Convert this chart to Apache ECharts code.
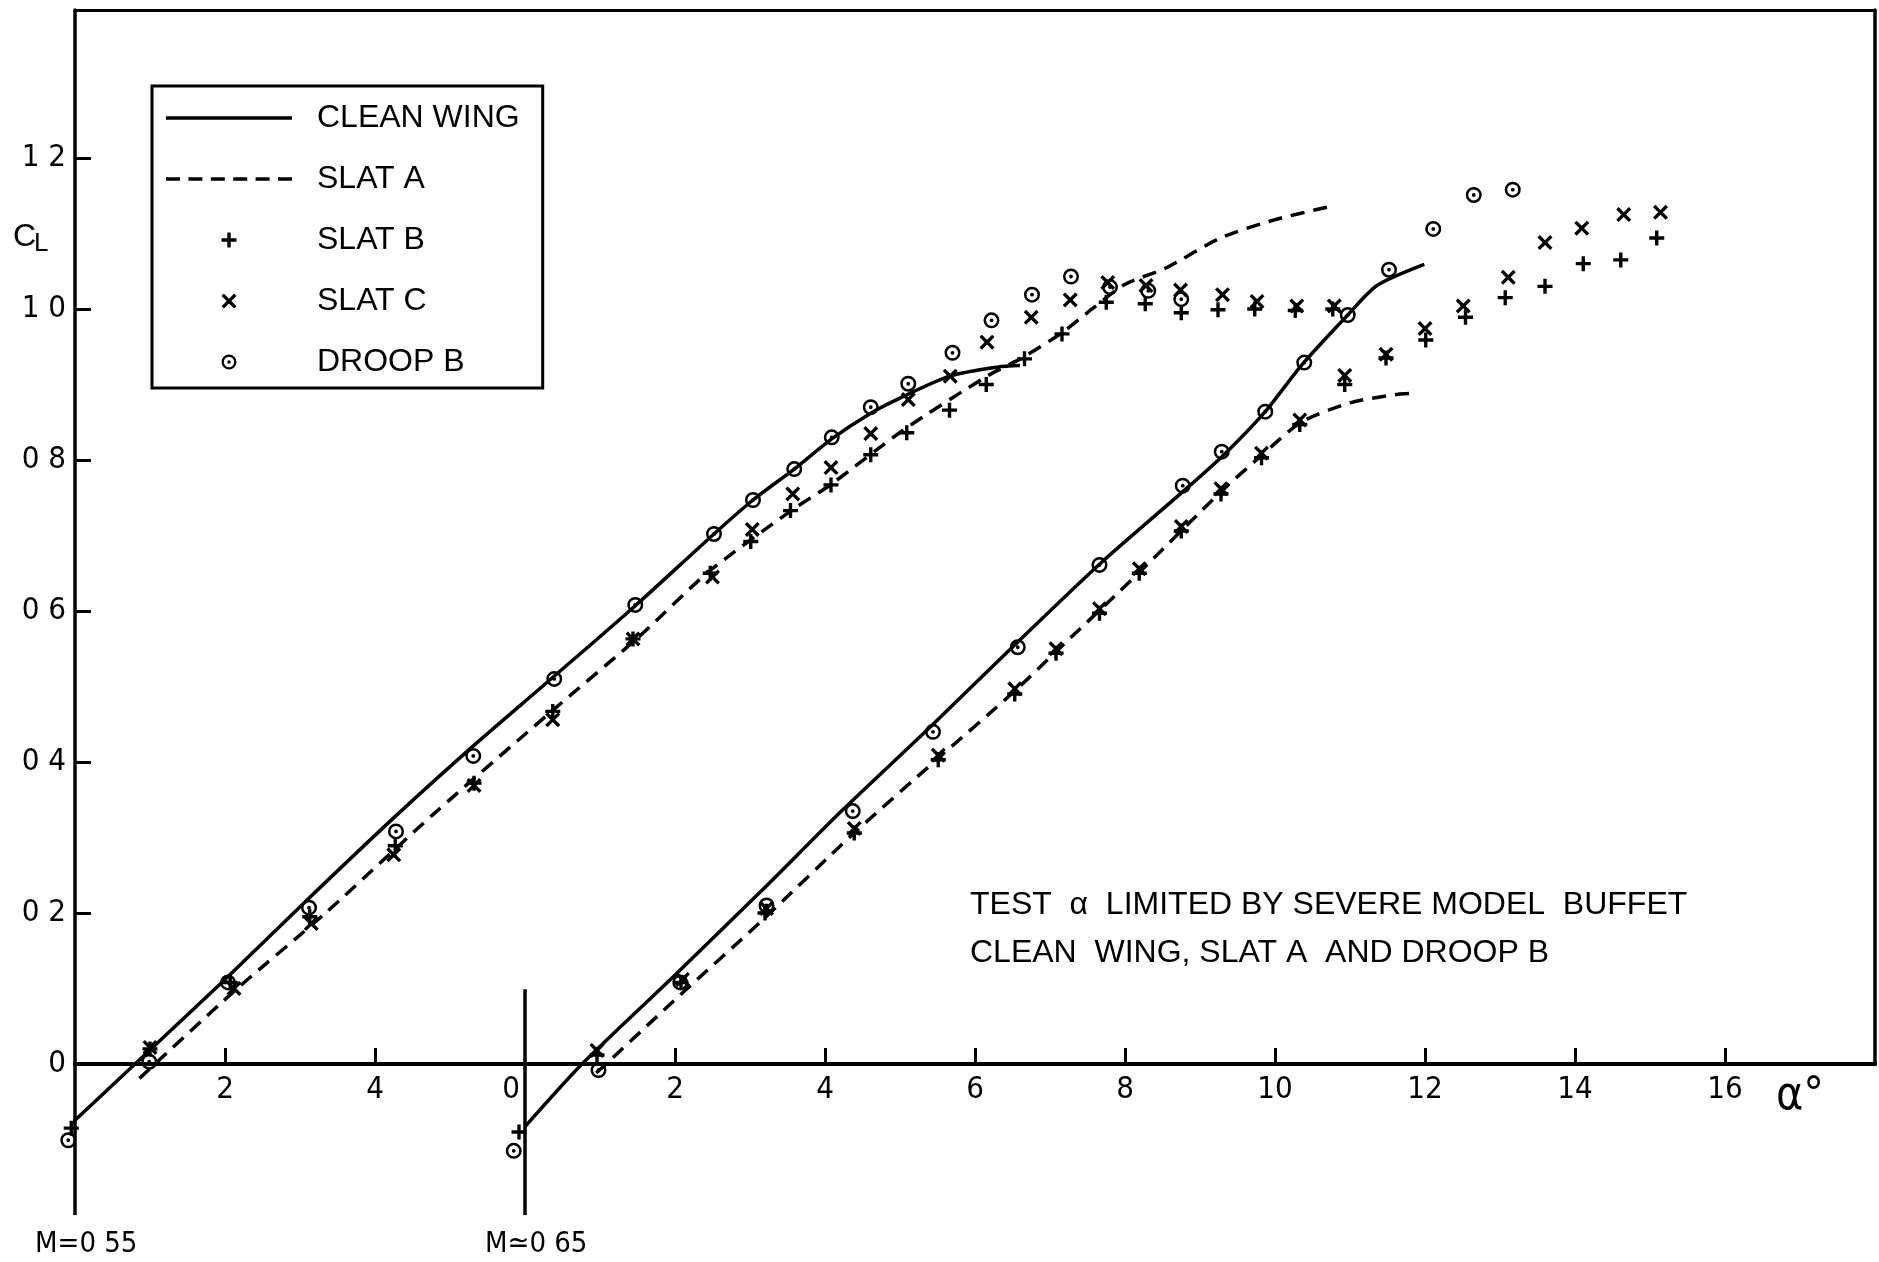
<!DOCTYPE html>
<html>
<head>
<meta charset="utf-8">
<title>CL vs alpha, slats and droop</title>
<script src="https://cdn.jsdelivr.net/npm/echarts@6/dist/echarts.min.js"></script>
<style>
  html, body { margin: 0; padding: 0; background: #fff; }
  #chart { width: 1879px; height: 1262px; }
</style>
</head>
<body>
<div id="chart"></div>
<script>
// ---- values: [alpha (deg), CL] ----
// M = 0.55, alpha on the left scale
const cleanWing055 = [[-0.39, -0.111], [0.8, 0], [2.0, 0.112], [3.06, 0.214], [4.26, 0.327], [5.33, 0.423],
  [6.3, 0.506], [7.46, 0.606], [8.52, 0.702], [9.04, 0.747], [9.59, 0.788], [10.09, 0.828], [10.61, 0.862],
  [11.0, 0.882], [11.66, 0.911], [12.3, 0.923], [12.6, 0.925]]
const slatA055 = [[0.86, -0.019], [2.14, 0.098], [3.34, 0.2], [4.78, 0.331], [6.33, 0.465], [7.52, 0.566],
  [8.45, 0.652], [9.55, 0.733], [10.07, 0.767], [11.05, 0.84], [12.16, 0.911], [12.66, 0.937], [13.18, 0.97],
  [13.56, 1.0], [13.99, 1.032], [14.56, 1.055], [15.27, 1.094], [15.99, 1.118], [16.7, 1.135]]
const slatB055 = [[-0.05, -0.085], [1.0, 0.02], [2.07, 0.108], [3.13, 0.195], [4.27, 0.289], [5.32, 0.372],
  [6.37, 0.467], [7.44, 0.563], [8.47, 0.65], [9.01, 0.692], [9.54, 0.733], [10.08, 0.767], [10.61, 0.807],
  [11.09, 0.836], [11.66, 0.866], [12.15, 0.9], [12.66, 0.934], [13.16, 0.967], [13.75, 1.009], [14.27, 1.007],
  [14.75, 0.995], [15.24, 0.999], [15.73, 1.0], [16.27, 0.998], [16.77, 1.0]]
const slatC055 = [[1.0, 0.022], [2.12, 0.1], [3.15, 0.186], [4.25, 0.277], [5.32, 0.369], [6.37, 0.456],
  [7.44, 0.563], [8.5, 0.645], [9.03, 0.708], [9.57, 0.755], [10.08, 0.79], [10.61, 0.835], [11.11, 0.88],
  [11.67, 0.911], [12.16, 0.956], [12.75, 0.989], [13.27, 1.012], [13.77, 1.035], [14.28, 1.031], [14.74, 1.025],
  [15.3, 1.019], [15.76, 1.01], [16.29, 1.004], [16.79, 1.004]]
const droopB055 = [[-0.09, -0.101], [0.99, 0.003], [2.04, 0.108], [3.12, 0.207], [4.28, 0.308], [5.31, 0.408],
  [6.39, 0.51], [7.47, 0.608], [8.52, 0.702], [9.04, 0.747], [9.59, 0.788], [10.09, 0.83], [10.61, 0.87],
  [11.11, 0.901], [11.7, 0.942], [12.22, 0.985], [12.76, 1.019], [13.28, 1.043], [13.8, 1.029], [14.31, 1.024],
  [14.75, 1.013]]

// M = 0.65, alpha on the right scale
const cleanWing065 = [[0, -0.083], [0.76, 0], [1.97, 0.115], [3.16, 0.23], [4.23, 0.336], [5.4, 0.446],
  [6.57, 0.559], [7.66, 0.662], [8.84, 0.764], [9.33, 0.808], [9.87, 0.864], [10.35, 0.925], [10.97, 0.992],
  [11.36, 1.031], [11.99, 1.059]]
const slatA065 = [[0.95, -0.012], [2.13, 0.097], [3.16, 0.19], [4.39, 0.306], [5.51, 0.405], [6.53, 0.494],
  [7.1, 0.548], [8.2, 0.652], [9.28, 0.758], [9.82, 0.806], [10.35, 0.85], [11.01, 0.876], [11.64, 0.887],
  [11.8, 0.888]]
const slatB065 = [[-0.08, -0.09], [0.96, 0.012], [2.08, 0.108], [3.2, 0.2], [4.39, 0.306], [5.51, 0.403],
  [6.53, 0.49], [7.08, 0.544], [7.66, 0.597], [8.19, 0.65], [8.75, 0.706], [9.28, 0.755], [9.82, 0.803],
  [10.33, 0.847], [10.93, 0.9], [11.48, 0.935], [12.01, 0.959], [12.54, 0.989], [13.07, 1.015], [13.6, 1.03],
  [14.11, 1.06], [14.61, 1.065], [15.09, 1.094]]
const slatC065 = [[0.96, 0.018], [2.1, 0.112], [3.22, 0.206], [4.39, 0.312], [5.51, 0.409], [6.53, 0.497],
  [7.08, 0.55], [7.66, 0.603], [8.19, 0.656], [8.75, 0.712], [9.28, 0.762], [9.82, 0.809], [10.33, 0.853],
  [10.93, 0.912], [11.48, 0.94], [12.0, 0.974], [12.51, 1.004], [13.11, 1.042], [13.6, 1.088], [14.09, 1.107],
  [14.65, 1.125], [15.14, 1.128]]
const droopB065 = [[-0.15, -0.115], [0.98, -0.008], [2.07, 0.108], [3.22, 0.21], [4.37, 0.335], [5.44, 0.44],
  [6.57, 0.552], [7.66, 0.661], [8.77, 0.766], [9.29, 0.811], [9.87, 0.864], [10.39, 0.929], [10.97, 0.992],
  [11.52, 1.052], [12.11, 1.106], [12.65, 1.151], [13.17, 1.158]]

// ---- axes ----
const clTicks = [0, 0.2, 0.4, 0.6, 0.8, 1.0, 1.2]
const alphaTicks055 = [2, 4]
const alphaTicks065 = [0, 2, 4, 6, 8, 10, 12, 14, 16]
const CL_LOW = -0.2      // how far the two alpha-origin lines hang below CL = 0
const CL_MAX = 1.396
const ALPHA055_MIN = 0
const ALPHA055_MAX = 24
const ALPHA065_MIN = -6
const ALPHA065_MAX = 18
const M065_AXIS_TOP = 0.099

const NUM_FONT = "'DejaVu Sans Condensed', 'DejaVu Sans', sans-serif"
const TXT_FONT = "'Liberation Sans', Arimo, sans-serif"

const RING = 'path://M0,-8A8,8,0,1,1,0,8A8,8,0,1,1,0,-8ZM0,-5.5A5.5,5.5,0,1,0,0,5.5A5.5,5.5,0,1,0,0,-5.5ZM0,-1.9A1.9,1.9,0,1,1,0,1.9A1.9,1.9,0,1,1,0,-1.9Z'
const PLUS = 'path://M-1.35,-6H1.35V-1.35H6V1.35H1.35V6H-1.35V1.35H-6V-1.35H-1.35Z'
const CROSS = 'path://M-6,-4.1L-4.1,-6L0,-1.9L4.1,-6L6,-4.1L1.9,0L6,4.1L4.1,6L0,1.9L-4.1,6L-6,4.1L-1.9,0Z'
const SOLID_ICON = 'path://M0,0h126v3.5h-126z'
const DASH_ICON = 'path://M0,0h14v3.5h-14zM22.4,0h14v3.5h-14zM44.8,0h14v3.5h-14zM67.2,0h14v3.5h-14zM89.6,0h14v3.5h-14zM112,0h14v3.5h-14z'

const chart = echarts.init(document.getElementById('chart'), null, { renderer: 'canvas' })

const lineOf = (name, data, xIdx, dashed) => ({
  name,
  type: 'line',
  xAxisIndex: xIdx,
  data,
  symbol: 'none',
  smooth: 0.25,
  clip: false,
  silent: true,
  z: 2,
  itemStyle: { color: '#000' },
  lineStyle: { color: '#000', width: 3.5, type: dashed ? [14, 9] : 'solid' },
})

const pointsOf = (name, data, xIdx, symbol, size) => ({
  name,
  type: 'scatter',
  xAxisIndex: xIdx,
  data,
  symbol,
  symbolSize: size,
  clip: false,
  silent: true,
  z: 3,
  itemStyle: { color: '#000', opacity: 1 },
})

// the alpha = 0 lines hanging below the CL = 0 axis
const originLine = (name, xIdx, x, top) => ({
  name,
  type: 'line',
  xAxisIndex: xIdx,
  data: [[x, top], [x, CL_LOW]],
  symbol: 'none',
  clip: false,
  silent: true,
  z: 1,
  itemStyle: { color: '#000' },
  lineStyle: { color: '#000', width: 3.5 },
})

const tickStyle = { color: '#000', width: 3 }

chart.setOption({
  backgroundColor: '#fff',
  animation: false,
  grid: { left: 75, right: 4, top: 10, bottom: 198, containLabel: false, outerBoundsMode: 'none' },
  legend: {
    orient: 'vertical',
    left: 152,
    top: 86,
    selectedMode: false,
    itemWidth: 126,
    itemHeight: 15,
    itemGap: 25,
    padding: [14, 23, 8, 14],
    backgroundColor: '#fff',
    borderColor: '#000',
    borderWidth: 3,
    borderRadius: 0,
    textStyle: { color: '#000', fontFamily: TXT_FONT, fontSize: 32, lineHeight: 36, padding: [0, 0, 0, 20] },
    data: [
      { name: 'CLEAN WING', icon: SOLID_ICON },
      { name: 'SLAT A', icon: DASH_ICON },
      { name: 'SLAT B' },
      { name: 'SLAT C' },
      { name: 'DROOP B' },
    ],
  },
  xAxis: [
    {
      type: 'value',
      min: ALPHA055_MIN,
      max: ALPHA055_MAX,
      position: 'bottom',
      axisLine: { onZero: false, lineStyle: { color: '#000', width: 4 } },
      axisTick: { inside: true, length: 16, customValues: alphaTicks055, lineStyle: tickStyle },
      axisLabel: { customValues: alphaTicks055, margin: 10, color: '#000', fontFamily: NUM_FONT, fontSize: 31 },
      splitLine: { show: false },
    },
    {
      type: 'value',
      min: ALPHA065_MIN,
      max: ALPHA065_MAX,
      position: 'bottom',
      axisLine: { onZero: false, lineStyle: { color: '#000', width: 4 } },
      axisTick: { inside: true, length: 16, customValues: alphaTicks065.slice(1), lineStyle: tickStyle },
      axisLabel: {
        customValues: alphaTicks065,
        margin: 10,
        color: '#000',
        fontFamily: NUM_FONT,
        fontSize: 31,
        formatter: (v) => (v === 0 ? '{z|0}' : String(v)),
        rich: { z: { color: '#000', fontFamily: NUM_FONT, fontSize: 31, padding: [0, 28, 0, 0] } },
      },
      splitLine: { show: false },
    },
    {
      // top edge of the frame
      type: 'value',
      min: ALPHA055_MIN,
      max: ALPHA055_MAX,
      position: 'top',
      axisLine: { onZero: false, lineStyle: { color: '#000', width: 3 } },
      axisTick: { show: false },
      axisLabel: { show: false },
      splitLine: { show: false },
    },
  ],
  yAxis: [
    {
      type: 'value',
      min: 0,
      max: CL_MAX,
      position: 'left',
      axisLine: { show: true, onZero: false, lineStyle: { color: '#000', width: 3.5 } },
      axisTick: { show: true, inside: true, length: 16, customValues: clTicks.slice(1), lineStyle: tickStyle },
      axisLabel: {
        customValues: clTicks,
        margin: 9,
        color: '#000',
        fontFamily: NUM_FONT,
        fontSize: 31,
        formatter: (v) => (v === 0 ? '0' : v.toFixed(1).replace('.', ' ')),
      },
      splitLine: { show: false },
    },
    {
      // right edge of the frame, down to CL = 0
      type: 'value',
      min: 0,
      max: CL_MAX,
      position: 'right',
      axisLine: { show: true, onZero: false, lineStyle: { color: '#000', width: 3.5 } },
      axisTick: { show: false },
      axisLabel: { show: false },
      splitLine: { show: false },
    },
  ],
  series: [
    originLine('axis055', 0, ALPHA055_MIN, 0),
    originLine('axis065', 1, 0, M065_AXIS_TOP),
    lineOf('CLEAN WING', cleanWing055, 0, false),
    lineOf('SLAT A', slatA055, 0, true),
    pointsOf('SLAT B', slatB055, 0, PLUS, 15),
    pointsOf('SLAT C', slatC055, 0, CROSS, 15),
    pointsOf('DROOP B', droopB055, 0, RING, 16),
    lineOf('CLEAN WING', cleanWing065, 1, false),
    lineOf('SLAT A', slatA065, 1, true),
    pointsOf('SLAT B', slatB065, 1, PLUS, 15),
    pointsOf('SLAT C', slatC065, 1, CROSS, 15),
    pointsOf('DROOP B', droopB065, 1, RING, 16),
  ],
  graphic: [
    { type: 'text', x: 13, y: 237, style: { text: 'C', fill: '#000', fontFamily: TXT_FONT, fontSize: 32, verticalAlign: 'middle' } },
    { type: 'text', x: 34, y: 244, style: { text: 'L', fill: '#000', fontFamily: TXT_FONT, fontSize: 26, verticalAlign: 'middle' } },
    { type: 'text', x: 1776, y: 1097, style: { text: 'α°', fill: '#000', fontFamily: NUM_FONT, fontSize: 46, verticalAlign: 'middle' } },
    { type: 'text', x: 35, y: 1244, style: { text: 'M=0 55', fill: '#000', fontFamily: NUM_FONT, fontSize: 29, verticalAlign: 'middle' } },
    { type: 'text', x: 485, y: 1244, style: { text: 'M≃0 65', fill: '#000', fontFamily: NUM_FONT, fontSize: 29, verticalAlign: 'middle' } },
    { type: 'text', x: 970, y: 905, style: { text: 'TEST  α  LIMITED BY SEVERE MODEL  BUFFET', fill: '#000', fontFamily: TXT_FONT, fontSize: 32, verticalAlign: 'middle' } },
    { type: 'text', x: 970, y: 953, style: { text: 'CLEAN  WING, SLAT A  AND DROOP B', fill: '#000', fontFamily: TXT_FONT, fontSize: 32, verticalAlign: 'middle' } },
  ],
})
</script>
</body>
</html>
